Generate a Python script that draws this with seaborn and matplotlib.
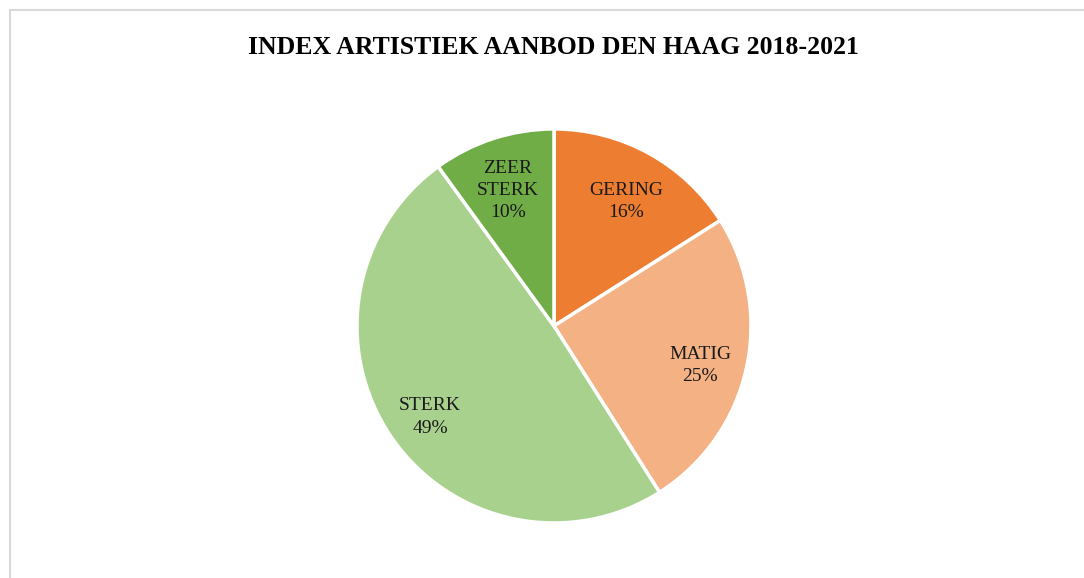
import matplotlib
matplotlib.use("Agg")
import matplotlib.pyplot as plt
from matplotlib.lines import Line2D
import seaborn as sns

sns.set_theme(style="white")
plt.rcParams['font.family'] = ['Liberation Serif', 'DejaVu Serif']

categories = ["GERING", "MATIG", "STERK", "ZEER STERK"]
shares = [16, 25, 49, 10]
label_names = ["GERING", "MATIG", "STERK", "ZEER\nSTERK"]
colors = ["#ED7D31", "#F4B183", "#A9D18E", "#70AD47"]

fig = plt.figure(figsize=(10.84, 5.78), dpi=100)
fig.patch.set_facecolor("white")

# light grey chart frame (top and left edges visible)
fig.add_artist(Line2D([10 / 1084, 1.0], [1 - 10 / 578] * 2, color="#D9D9D9", lw=1.5))
fig.add_artist(Line2D([10 / 1084] * 2, [0.0, 1 - 10 / 578], color="#D9D9D9", lw=1.5))

ax = fig.add_axes([0.3293, 0.0952, 0.3635, 0.6817])
labels = ["{}\n{}%".format(n, v) for n, v in zip(label_names, shares)]
wedges, texts = ax.pie(shares, labels=labels, colors=colors, startangle=90,
                       counterclock=False, labeldistance=0.76,
                       wedgeprops=dict(edgecolor="white", linewidth=2.5),
                       textprops=dict(fontsize=14, color="#1a1a1a"))
for t in texts:
    t.set_horizontalalignment("center")
    t.set_verticalalignment("center")
    t.set_multialignment("center")
    t.set_linespacing(1.4)
    x, y = t.get_position()
    t.set_position((x, y - 0.035))
ax.set_xlim(-1, 1)
ax.set_ylim(-1, 1)
ax.set_aspect("equal")

fig.text(553 / 1084, 1 - 47 / 578, "INDEX ARTISTIEK AANBOD DEN HAAG 2018-2021",
         ha="center", va="center", fontsize=18.5, fontweight="bold", color="black")

fig.savefig("out.png", dpi=100, facecolor="white")
